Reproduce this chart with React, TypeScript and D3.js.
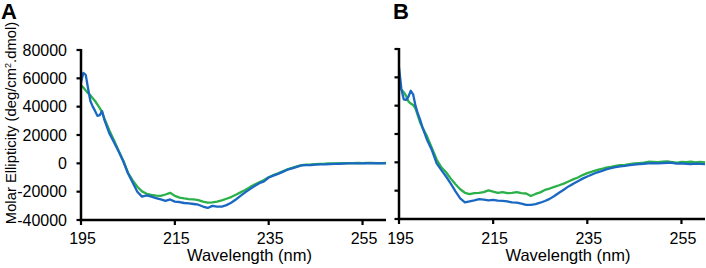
import React from "react";
import * as d3 from "d3";

const wavelengths = [195, 195.5, 196, 196.5, 197, 197.5, 198, 198.5, 199, 199.5, 200,
  201, 202, 203, 204, 205, 206, 207, 208, 209, 210, 211, 212, 213, 214, 215, 216, 217, 218, 219, 220,
  221, 222, 223, 224, 225, 226, 227, 228, 229, 230, 231, 232, 233, 234, 235, 236, 237, 238, 239, 240,
  241, 242, 243, 244, 245, 246, 247, 248, 249, 250, 251, 252, 253, 254, 255, 256, 257, 258, 259, 260];

const aBlue = [57000, 63800, 62500, 53000, 44000, 40000, 37000, 33500, 34000, 36800, 30500,
  21500, 15000, 8500, 1500, -7000, -13500, -20000, -23500, -22600, -23500, -24500, -25500, -26500, -25500, -27000, -27300, -28000, -28200, -28700, -29200,
  -30500, -31500, -30000, -30500, -30500, -29500, -27800, -25500, -23000, -20500, -18200, -16000, -14000, -12700, -10000, -8700, -7400, -6000, -4500, -3500,
  -2500, -1500, -1200, -1300, -900, -800, -700, -500, -400, -300, -200, -100, 0, 0, 0, 100, 0, 100, 0, 0];

const aGreen = [55000, 53500, 51500, 49500, 48000, 46000, 44000, 41500, 39000, 36000, 31500,
  23500, 16500, 9000, 2000, -6500, -12000, -16500, -19800, -21500, -22300, -22800, -23000, -22000, -20800, -23000, -24200, -24800, -25200, -25500, -26000,
  -27000, -27800, -27500, -27000, -26200, -25000, -23800, -22200, -20500, -18800, -16800, -15000, -13300, -11800, -9800, -8300, -7000, -5600, -4200, -3200,
  -2200, -1300, -900, -800, -500, -400, -300, -100, 0, 0, 100, 200, 200, 300, 200, 300, 300, 200, 200, 300];

const bBlue = [67000, 52000, 44500, 44000, 46300, 50500, 48000, 40000, 34500, 30000, 24500,
  15500, 8500, -700, -5500, -10000, -15000, -20500, -25500, -28300, -27500, -26800, -26000, -26300, -26800, -26500, -27000, -27200, -27600, -28300, -28500,
  -29200, -30100, -30000, -29500, -28500, -27300, -25800, -23800, -21500, -19300, -17000, -15200, -13300, -11500, -10000, -8600, -7200, -6200, -5000, -4100,
  -3400, -2800, -2500, -2000, -1600, -1300, -1000, -800, -600, -700, -500, -300, -400, -900, -700, -1000, -1200, -900, -1100, -1200];

const bGreen = [54000, 51500, 49500, 47000, 43000, 41500, 40500, 38000, 33000, 28000, 24500,
  18000, 10000, 2000, -3500, -7000, -11500, -15500, -19000, -21500, -22500, -21800, -21500, -21000, -19800, -20700, -21500, -21000, -21800, -21500, -21000,
  -21800, -22000, -23800, -22300, -21200, -19500, -18500, -17300, -16200, -15000, -13500, -12000, -10700, -9000, -7600, -6600, -5500, -4700, -3800, -3200,
  -2500, -2000, -1800, -1200, -800, -500, -200, 400, 300, 100, 500, 700, 200, -300, 300, 100, 500, 0, 300, 0];

const xTicks = [195, 215, 235, 255];
const yTicks = [80000, 60000, 40000, 20000, 0, -20000, -40000];
const xDomain = [195, 260];
const yDomain = [-40000, 80000];

const BLUE = "#1a68c2";
const GREEN = "#2bb04a";
const FONT = "Liberation Sans, Arial, sans-serif";

type PanelProps = {
  left: number;
  right: number;
  top: number;
  bottom: number;
  label: string;
  labelX: number;
  blue: number[];
  green: number[];
  showYLabels: boolean;
};

function Panel({ left, right, top, bottom, label, labelX, blue, green, showYLabels }: PanelProps) {
  const x = d3.scaleLinear().domain(xDomain).range([left, right]);
  const y = d3.scaleLinear().domain(yDomain).range([bottom, top]);
  const line = d3
    .line<number>()
    .x((_, i) => x(wavelengths[i]))
    .y((d) => y(d))
    .curve(d3.curveLinear);
  return (
    <g>
      <text x={labelX} y={19} fontFamily={FONT} fontWeight="bold" fontSize={22} fill="#000">
        {label}
      </text>
      <path d={line(green) || ""} fill="none" stroke={GREEN} strokeWidth={2.3} strokeLinejoin="round" />
      <path d={line(blue) || ""} fill="none" stroke={BLUE} strokeWidth={2.3} strokeLinejoin="round" />
      <line x1={left} x2={left} y1={y(80000) - 1} y2={bottom + 1.2} stroke="#000" strokeWidth={2.5} />
      {yTicks.map((t) => (
        <g key={t}>
          <line x1={left - 4.5} x2={left} y1={y(t)} y2={y(t)} stroke="#000" strokeWidth={2.2} />
          {showYLabels && (
            <text x={67} y={y(t) + 5.8} textAnchor="end" fontFamily={FONT} fontSize={16} fill="#000">
              {t}
            </text>
          )}
        </g>
      ))}
      <line x1={left - 1.2} x2={right} y1={bottom} y2={bottom} stroke="#000" strokeWidth={2.5} />
      {xTicks.map((t) => (
        <g key={t}>
          <line x1={x(t)} x2={x(t)} y1={bottom} y2={bottom + 5} stroke="#000" strokeWidth={2.2} />
          <text x={x(t) + 1.5} y={244} textAnchor="middle" fontFamily={FONT} fontSize={16} fill="#000">
            {t}
          </text>
        </g>
      ))}
      <text
        x={(left + right) / 2 + 16}
        y={261}
        textAnchor="middle"
        fontFamily={FONT}
        fontSize={16.5}
        fill="#000"
      >
        Wavelength (nm)
      </text>
    </g>
  );
}

export default function App() {
  return (
    <svg
      width={706}
      height={268}
      style={{ position: "absolute", left: 0, top: 0, background: "#fff" }}
    >
      <rect width={706} height={268} fill="#fff" />
      <Panel left={81} right={386} top={50} bottom={220} label="A" labelX={1} blue={aBlue} green={aGreen} showYLabels />
      <Panel left={399} right={705} top={49} bottom={219} label="B" labelX={393} blue={bBlue} green={bGreen} showYLabels={false} />
      <text
        transform="translate(16,123) rotate(-90)"
        textAnchor="middle"
        fontFamily={FONT}
        fontSize={14.8}
        fill="#000"
      >
        Molar Ellipticity (deg/cm
        <tspan fontSize={9} dy={-5}>2</tspan>
        <tspan dy={5}>.dmol)</tspan>
      </text>
    </svg>
  );
}
